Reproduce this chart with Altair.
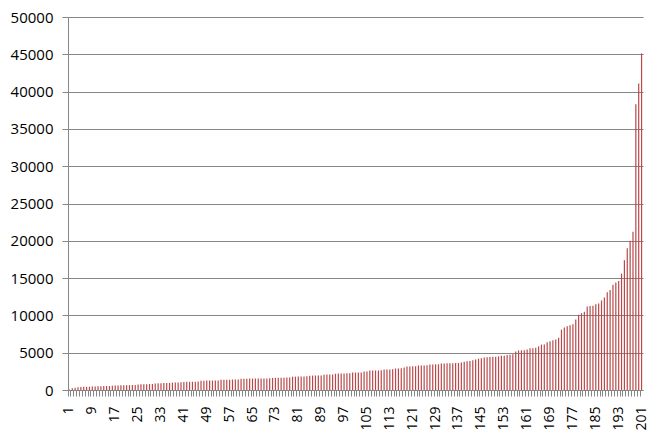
import altair as alt
import pandas as pd

values = [
    60, 250, 300, 380, 400, 420, 430, 440, 470, 480,
    490, 510, 520, 530, 540, 580, 600, 610, 620, 630,
    640, 650, 660, 680, 740, 760, 770, 780, 800, 820,
    880, 900, 920, 930, 940, 950, 990, 1000, 1010, 1030,
    1080, 1090, 1100, 1110, 1120, 1140, 1230, 1250, 1260, 1260,
    1270, 1270, 1280, 1360, 1370, 1380, 1390, 1400, 1400, 1410,
    1500, 1510, 1520, 1530, 1530, 1530, 1540, 1540, 1550, 1550,
    1560, 1620, 1630, 1640, 1650, 1650, 1660, 1670, 1780, 1790,
    1800, 1810, 1820, 1830, 1920, 1930, 1940, 1950, 1960, 2060,
    2070, 2080, 2090, 2180, 2200, 2210, 2220, 2230, 2240, 2330,
    2340, 2350, 2360, 2470, 2480, 2600, 2610, 2620, 2630, 2640,
    2740, 2750, 2760, 2770, 2880, 2890, 2900, 3010, 3150, 3160,
    3170, 3180, 3280, 3290, 3300, 3310, 3420, 3430, 3440, 3450,
    3550, 3560, 3570, 3580, 3600, 3610, 3620, 3700, 3780, 3850,
    3900, 4000, 4100, 4200, 4250, 4360, 4380, 4420, 4460, 4470,
    4510, 4590, 4600, 4690, 4730, 4780, 5170, 5300, 5320, 5340,
    5420, 5580, 5600, 5680, 5850, 6080, 6100, 6390, 6520, 6660,
    6760, 7020, 8100, 8370, 8550, 8690, 8820, 9450, 10100, 10300,
    10500, 11200, 11250, 11300, 11500, 11600, 12000, 12400, 13100, 13400,
    14100, 14400, 14600, 15600, 17400, 19000, 20000, 21200, 38300, 41100,
    45100,
]
categories = list(range(1, len(values) + 1))
y_ticks = [0, 5000, 10000, 15000, 20000, 25000, 30000, 35000, 40000, 45000, 50000]

df = pd.DataFrame({"n": categories, "v": values})

chart = alt.Chart(df).mark_bar(size=1.2, color="#B8484A").encode(
    x=alt.X(
        "n:O",
        scale=alt.Scale(paddingInner=0, paddingOuter=0),
        axis=alt.Axis(
            title=None,
            labelAngle=-90,
            labelExpr="(datum.value - 1) % 8 == 0 ? datum.label : ''",
            tickSize=6,
            tickColor="#868686",
            domainColor="#868686",
            labelFontSize=14,
            labelFont="Open Sans",
            labelColor="#000000",
            labelPadding=10,
            grid=False,
            bandPosition=0,
        ),
    ),
    y=alt.Y(
        "v:Q",
        scale=alt.Scale(domain=[0, 50000], nice=False),
        axis=alt.Axis(
            title=None,
            values=y_ticks,
            format="d",
            tickSize=6,
            tickColor="#868686",
            domainColor="#868686",
            gridColor="#868686",
            labelFontSize=15,
            labelFont="Open Sans",
            labelColor="#000000",
            labelPadding=9,
        ),
    ),
).properties(
    width=575,
    height=373,
    autosize="none",
    padding={"left": 60, "top": 9, "right": 10, "bottom": 46},
).configure_view(stroke=None)

chart.save("out.html", embed_options={"renderer": "svg", "actions": False})
